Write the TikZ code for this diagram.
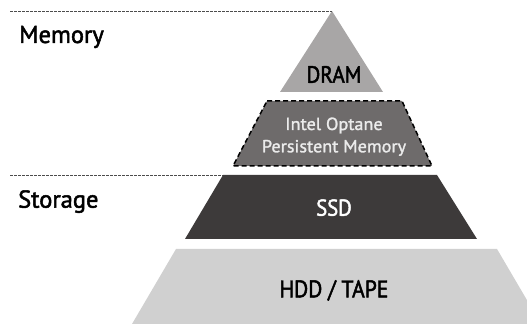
\documentclass[tikz,border=0pt]{standalone}
\usepackage{fontspec}
\newfontfamily\sidefont[FakeBold=2]{PT Sans}
\newfontfamily\layerfont[FakeStretch=0.9,FakeBold=2]{PT Sans}
\newfontfamily\optanefont[FakeStretch=1.04,FakeBold=1.5]{PT Sans}
\definecolor{dramgray}{HTML}{A8A6A6}
\definecolor{optanegray}{HTML}{6E6B6B}
\definecolor{ssdgray}{HTML}{3D3A3A}
\definecolor{hddgray}{HTML}{D0D0D0}
\tikzset{
  tier/.style={inner sep=0pt, anchor=base},
  sideLabel/.style={font=\sidefont\fontsize{24.5}{28}\selectfont, inner sep=0pt, anchor=base west},
  splitline/.style={dash pattern=on 2.5pt off 1.5pt, gray!60!black, line width=0.6pt}
}
\begin{document}
\begin{tikzpicture}[x=1pt,y=1pt]
    \useasboundingbox (0,0) rectangle (527,326);
    % the four layers of the pyramid
    \fill[dramgray] (332,315)--(383,234)--(280,234)--cycle;
    \filldraw[fill=optanegray, draw=black, dash pattern=on 5pt off 3pt, line width=1.5pt] (267,225)--(402,225)--(432,160)--(233,160)--cycle;
    \fill[ssdgray] (223,151)--(437,151)--(477,87)--(185,87)--cycle;
    \fill[hddgray] (176,77)--(497,77)--(541,2)--(132,2)--cycle;
    % boundaries memory / storage
    \draw[splitline] (10,315)--(332,315);
    \draw[splitline] (10,151)--(223,151);
    \node[sideLabel] (mem) at (19,283) {Memory};
    \node[sideLabel] (sto) at (18,118.3) {Storage};
    \node[tier, font=\layerfont\fontsize{23.5}{26}\selectfont] (dram) at (334,243.3) {DRAM};
    \node[tier, align=center, text=white!92!black, font=\optanefont\fontsize{17.5}{22.3}\selectfont] (optane) at (334,173.7) {Intel Optane\\Persistent Memory};
    \node[tier, text=white, font=\layerfont\fontsize{23}{26}\selectfont] (ssd) at (334,110.3) {SSD};
    \node[tier, font=\layerfont\fontsize{24}{26}\selectfont] (hdd) at (334,28.7) {HDD / TAPE};
\end{tikzpicture}
\end{document}
